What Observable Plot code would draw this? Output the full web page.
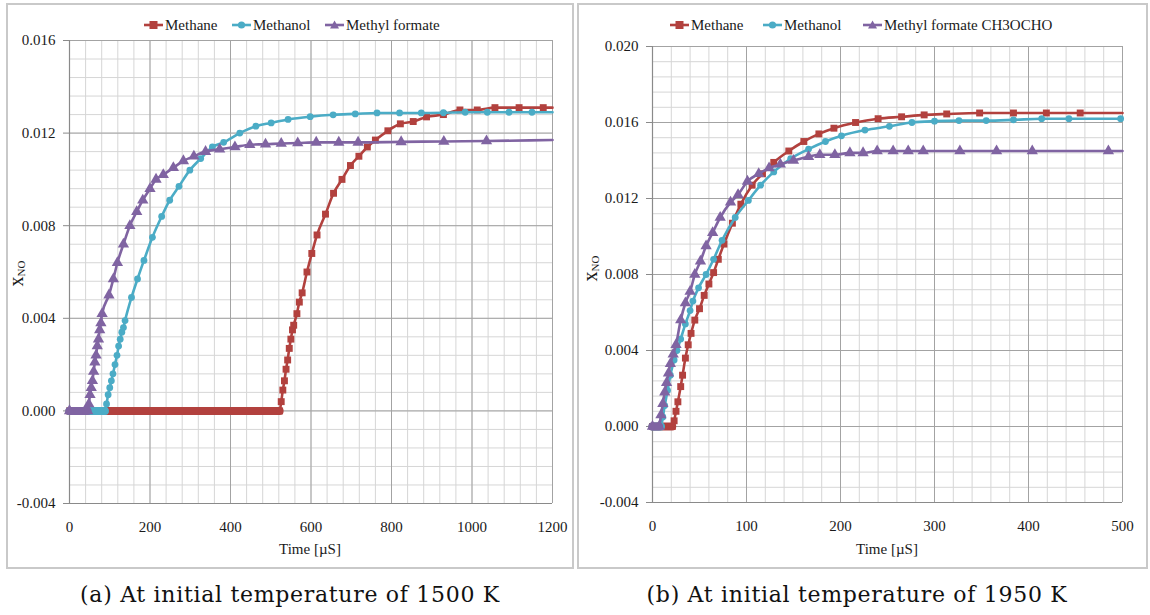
<!DOCTYPE html>
<html>
<head>
<meta charset="utf-8">
<script src="https://cdn.jsdelivr.net/npm/d3@7"></script>
<script src="https://cdn.jsdelivr.net/npm/@observablehq/plot@0.6"></script>
<style>
  body { margin: 0; background: #fff; }
  #root { position: relative; width: 1150px; height: 615px; font-family: "Liberation Serif", "Times New Roman", Times, "DejaVu Serif", serif; color: #1a1a1a; overflow: hidden; }
  .frame { position: absolute; border: 2px solid #c9c9c9; box-sizing: border-box; }
  .leg { position: absolute; font-size: 15px; line-height: 18px; display: flex; align-items: center; white-space: nowrap; }
  .leg svg { margin-right: 2px; }
  .ylab { position: absolute; font-size: 20px; transform: rotate(-90deg); transform-origin: center center; white-space: nowrap; }
  .ylab sub { font-size: 11px; vertical-align: -2px; }
  .xlab { position: absolute; font-size: 15px; transform: translateX(-50%); white-space: nowrap; }
  .cap { position: absolute; font-size: 22px; letter-spacing: 0.7px; transform: translateX(-50%); white-space: nowrap; font-family: "DejaVu Serif", serif; color: #111; }
</style>
</head>
<body>
<div id="root"></div>
<script>
const FONT = '"Liberation Serif", "Times New Roman", Times, "DejaVu Serif", serif';
// ---------- Data: panel (a) 1500 K ----------
const seriesNames = ["Methane", "Methanol", "Methyl formate"];
const seriesNamesB = ["Methane", "Methanol", "Methyl formate CH3OCHO"];

const methaneA_t = [0, 522, 526, 530, 534, 538, 542, 546, 550, 554, 557, 565, 571, 578, 590, 602, 615, 636, 656, 677, 698, 719, 740, 760, 791, 822, 854, 887, 929, 970, 1013, 1057, 1117, 1177, 1200];
const methaneA_v = [0, 0, 0.0004, 0.0009, 0.0013, 0.0018, 0.0022, 0.0027, 0.0031, 0.0035, 0.0037, 0.0042, 0.0047, 0.0051, 0.0060, 0.0068, 0.0076, 0.0085, 0.0094, 0.0100, 0.0106, 0.0110, 0.0114, 0.0117, 0.0121, 0.0124, 0.0125, 0.0127, 0.0128, 0.0130, 0.0130, 0.0131, 0.0131, 0.0131, 0.0131];

const methanolA_t = [0, 88, 92, 96, 100, 104, 108, 113, 118, 122, 126, 130, 134, 138, 154, 169, 185, 206, 229, 249, 272, 299, 326, 355, 383, 423, 463, 501, 543, 598, 655, 710, 764, 820, 874, 929, 983, 1038, 1092, 1149, 1200];
const methanolA_v = [0, 0, 0.0003, 0.0007, 0.0010, 0.0013, 0.0016, 0.0020, 0.0024, 0.0028, 0.0031, 0.0034, 0.0036, 0.0039, 0.0049, 0.0057, 0.0065, 0.0075, 0.0084, 0.0091, 0.0097, 0.0104, 0.0109, 0.0114, 0.0116, 0.0120, 0.0123, 0.01244, 0.01259, 0.01271, 0.01279, 0.01283, 0.01287, 0.01287, 0.01287, 0.01288, 0.0129, 0.0129, 0.0129, 0.0129, 0.0129];

const methylA_t = [0, 45, 48, 51, 54, 57, 60, 63, 66, 69, 72, 75, 78, 81, 98, 109, 119, 134, 150, 167, 182, 200, 215, 233, 258, 283, 309, 338, 373, 411, 448, 487, 526, 567, 613, 669, 717, 824, 930, 1036, 1200];
const methylA_v = [0, 0, 0.0003, 0.0007, 0.0010, 0.0013, 0.0017, 0.0021, 0.0024, 0.0028, 0.0031, 0.0035, 0.0038, 0.0042, 0.0050, 0.0057, 0.0064, 0.0072, 0.0080, 0.0086, 0.0091, 0.0096, 0.0100, 0.0102, 0.0105, 0.0108, 0.0110, 0.0112, 0.0113, 0.0114, 0.0115, 0.01152, 0.01155, 0.01157, 0.0116, 0.0116, 0.0116, 0.01162, 0.01164, 0.01166, 0.0117];

// ---------- Data: panel (b) 1950 K ----------
const methaneB_t = [0, 21, 23, 25, 27, 30, 32, 35, 38, 41, 45, 50, 55, 60, 65, 70, 76, 85, 94, 106, 117, 129, 145, 161, 177, 193, 216, 240, 265, 289, 313, 348, 384, 419, 455, 500];
const methaneB_v = [0, 0, 0.0003, 0.0008, 0.0013, 0.0021, 0.0027, 0.0036, 0.0043, 0.0049, 0.0056, 0.0062, 0.0069, 0.0075, 0.0081, 0.0088, 0.0096, 0.0107, 0.0117, 0.0127, 0.0133, 0.0139, 0.0145, 0.0150, 0.0154, 0.0157, 0.0160, 0.0162, 0.0163, 0.0164, 0.01645, 0.0165, 0.0165, 0.0165, 0.0165, 0.0165];

const methanolB_t = [0, 9, 11, 13, 16, 19, 23, 26, 30, 35, 40, 43, 49, 57, 65, 74, 88, 102, 115, 129, 147, 166, 184, 201, 226, 252, 276, 300, 326, 355, 384, 414, 443, 498];
const methanolB_v = [0, 0, 0.0005, 0.0011, 0.0019, 0.0027, 0.0035, 0.0040, 0.0046, 0.0054, 0.0061, 0.0066, 0.0073, 0.0080, 0.0088, 0.0098, 0.0110, 0.0119, 0.0127, 0.0134, 0.0141, 0.0146, 0.0150, 0.0153, 0.0156, 0.0158, 0.0160, 0.01607, 0.0161, 0.0161, 0.01614, 0.0162, 0.0162, 0.0162];

const methylB_t = [0, 7, 9, 11, 13, 15, 17, 19, 22, 25, 30, 35, 40, 45, 51, 57, 64, 72, 83, 91, 101, 113, 124, 136, 150, 166, 178, 194, 210, 224, 239, 256, 272, 288, 327, 366, 404, 485, 500];
const methylB_v = [0, 0, 0.0006, 0.0012, 0.0018, 0.0023, 0.0028, 0.0033, 0.0038, 0.0043, 0.0056, 0.0065, 0.0071, 0.0080, 0.0087, 0.0095, 0.0102, 0.0110, 0.0118, 0.0122, 0.0129, 0.0133, 0.0136, 0.0138, 0.0140, 0.0142, 0.0143, 0.0143, 0.0144, 0.0144, 0.0145, 0.0145, 0.0145, 0.0145, 0.0145, 0.0145, 0.0145, 0.0145, 0.0145];

// ---------- Axis ticks ----------
const xTicksA = [0, 200, 400, 600, 800, 1000, 1200];
const xTicksB = [0, 100, 200, 300, 400, 500];
const yTicksA = [-0.004, 0, 0.004, 0.008, 0.012, 0.016];
const yTicksB = [-0.004, 0, 0.004, 0.008, 0.012, 0.016, 0.020];

const captionA = "(a) At initial temperature of 1500 K";
const captionB = "(b) At initial temperature of 1950 K";

// ---------- Styles ----------
const colors = ["#B2413E", "#4BACC6", "#8064A2"];
const symbols = ["square", "circle", "triangle"];
const radii = [3.9, 3.4, 4.2];

const rows = (ts, vs) => ts.map((t, i) => ({t, v: vs[i]}));

function panel({series, xTicks, yTicks, xMax, yMin, yMax, xMinorStep, ml, mr, mt, mb}) {
  const minorX = d3.range(0, xMax + 1e-9, xMinorStep);
  const minorY = d3.range(0, Math.round((yMax - yMin) / 0.0008) + 1).map(i => yMin + i * 0.0008);
  const marks = [
    Plot.ruleX(minorX, {stroke: "#d6d6d6", strokeWidth: 1}),
    Plot.ruleY(minorY, {stroke: "#d6d6d6", strokeWidth: 1}),
    Plot.ruleX(xTicks, {stroke: "#a3a3a3", strokeWidth: 1}),
    Plot.ruleY(yTicks, {stroke: "#a3a3a3", strokeWidth: 1}),
    Plot.ruleX([0], {stroke: "#8a8a8a", strokeWidth: 1.2}),
    Plot.ruleY([yMin], {stroke: "#8a8a8a", strokeWidth: 1.2}),
    Plot.axisY({ticks: yTicks, tickFormat: d => d.toFixed(3), tickSize: 6, tickPadding: 8, stroke: "#8a8a8a", label: null, fontSize: 15, fill: "#1a1a1a"}),
    Plot.axisX({ticks: xTicks, tickFormat: d => String(d), tickSize: 0, tickPadding: 18, label: null, fontSize: 15, fill: "#1a1a1a"})
  ];
  series.forEach((data, i) => {
    marks.push(Plot.line(data.filter(d => d.v === 0), {x: "t", y: "v", stroke: colors[i], strokeWidth: 8}));
    marks.push(Plot.line(data, {x: "t", y: "v", stroke: colors[i], strokeWidth: 2.6, curve: "monotone-x"}));
    marks.push(Plot.dot(data.filter(d => d.t < xMax), {x: "t", y: "v", symbol: symbols[i], r: radii[i], fill: colors[i], stroke: "none"}));
  });
  return Plot.plot({
    width: 575, height: 570,
    marginLeft: ml, marginRight: mr, marginTop: mt, marginBottom: mb,
    x: {domain: [0, xMax]},
    y: {domain: [yMin, yMax]},
    style: {fontFamily: FONT, fontSize: "15px", background: "transparent", color: "#1a1a1a", overflow: "visible"},
    marks
  });
}

const root = document.getElementById("root");
function add(html) { const d = document.createElement("div"); d.innerHTML = html; while (d.firstChild) root.appendChild(d.firstChild); }

add(`<div class="frame" style="left:6px;top:3px;width:568px;height:566px"></div>`);
add(`<div class="frame" style="left:577px;top:3px;width:571px;height:566px"></div>`);

const svgA = panel({
  series: [rows(methaneA_t, methaneA_v), rows(methanolA_t, methanolA_v), rows(methylA_t, methylA_v)],
  xTicks: xTicksA, yTicks: yTicksA, xMax: 1200, yMin: -0.004, yMax: 0.016, xMinorStep: 40,
  ml: 69, mr: 23, mt: 40, mb: 67
});
const svgB = panel({
  series: [rows(methaneB_t, methaneB_v), rows(methanolB_t, methanolB_v), rows(methylB_t, methylB_v)],
  xTicks: xTicksB, yTicks: yTicksB, xMax: 500, yMin: -0.004, yMax: 0.020, xMinorStep: 20,
  ml: 77, mr: 28, mt: 46, mb: 68
});
const wrapA = document.createElement("div"); wrapA.style.cssText = "position:absolute;left:0;top:0;";
wrapA.appendChild(svgA); root.appendChild(wrapA);
const wrapB = document.createElement("div"); wrapB.style.cssText = "position:absolute;left:575px;top:0;";
wrapB.appendChild(svgB); root.appendChild(wrapB);

function swatch(i) {
  const c = colors[i];
  let m;
  if (i === 0) m = `<rect x="5.5" y="5" width="8" height="8" fill="${c}"/>`;
  else if (i === 1) m = `<circle cx="9.5" cy="9" r="3.6" fill="${c}"/>`;
  else m = `<path d="M9.5,4.5 L14,12.5 L5,12.5 Z" fill="${c}"/>`;
  return `<svg width="19" height="18"><line x1="0" y1="9" x2="19" y2="9" stroke="${c}" stroke-width="2.6"/>${m}</svg>`;
}
const legA = [144, 232, 325];
const legB = [670, 763, 863];
seriesNames.forEach((n, i) => add(`<div class="leg" style="left:${legA[i]}px;top:16px">${swatch(i)}<span>${n}</span></div>`));
seriesNamesB.forEach((n, i) => add(`<div class="leg" style="left:${legB[i]}px;top:16px">${swatch(i)}<span>${n}</span></div>`));

add(`<div class="ylab" style="left:4px;top:262px">x<sub>NO</sub></div>`);
add(`<div class="ylab" style="left:578px;top:257px">x<sub>NO</sub></div>`);
add(`<div class="xlab" style="left:310px;top:541px">Time [µS]</div>`);
add(`<div class="xlab" style="left:887px;top:541px">Time [µS]</div>`);
add(`<div class="cap" style="left:290px;top:582px">${captionA}</div>`);
add(`<div class="cap" style="left:857px;top:582px">${captionB}</div>`);
</script>
</body>
</html>
